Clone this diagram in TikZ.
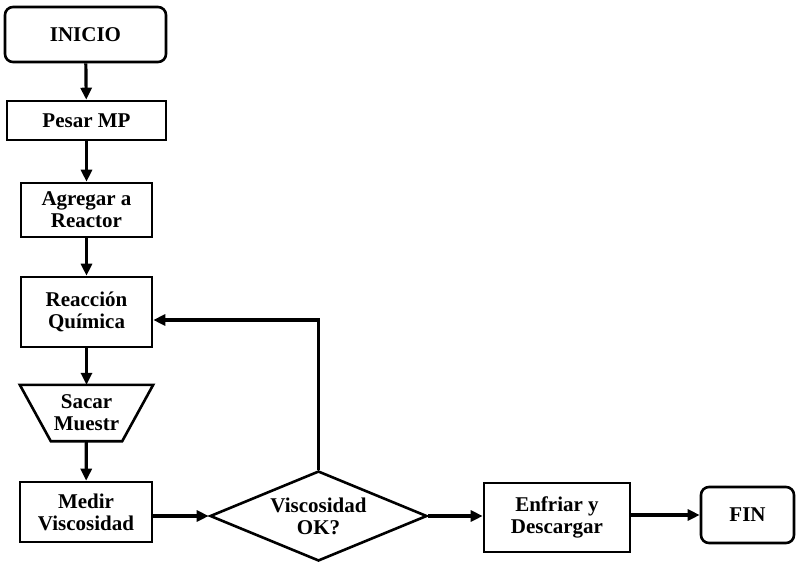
\documentclass[tikz,border=0pt]{standalone}
\usepackage{fontspec}
\setmainfont{Liberation Serif}
\usetikzlibrary{shapes.geometric,arrows.meta}
\begin{document}
\begin{tikzpicture}[x=1pt,y=-1pt,
  every node/.style={font=\bfseries\fontsize{21}{22}\selectfont, align=center, inner sep=0pt},
  box/.style={draw, line width=2.6pt, rectangle},
  rbox/.style={draw, line width=2.6pt, rectangle, rounded corners=8pt},
  dia/.style={draw, line width=2.6pt, diamond, aspect=2.4},
  conn/.style={line width=3.2pt, -{Triangle[length=12pt,width=11pt]}}]
\useasboundingbox (0,0) rectangle (796,563);
\node[rbox, minimum width=161pt, minimum height=55pt] (inicio) at (85.5,34.5) {INICIO};
\node[box, minimum width=159pt, minimum height=39pt] (pesar) at (86.5,120.5) {Pesar MP};
\node[box, minimum width=131pt, minimum height=54pt] (agregar) at (86.5,210) {Agregar a\\Reactor};
\node[box, minimum width=131pt, minimum height=70pt] (reaccion) at (86.5,312) {Reacción\\Química};
\node[minimum width=133pt, minimum height=56pt] (sacar) at (86.5,413) {Sacar\\Muestr};
\draw[line width=2.6pt, line join=miter] (sacar.north west) -- (sacar.north east)
  -- ([xshift=-31pt]sacar.south east) -- ([xshift=31pt]sacar.south west) -- cycle;
\node[box, minimum width=132pt, minimum height=60pt] (medir) at (86,512) {Medir\\Viscosidad};
\node[dia, minimum width=217pt, minimum height=90pt] (visc) at (318.5,516) {Viscosidad\\OK?};
\node[box, minimum width=146pt, minimum height=69pt] (enfriar) at (557,517.5) {Enfriar y\\Descargar};
\node[rbox, minimum width=93pt, minimum height=56pt] (fin) at (747.5,515) {FIN};
\draw[conn] (inicio) -- (pesar);
\draw[conn] (pesar) -- (agregar);
\draw[conn] (agregar) -- (reaccion);
\draw[conn] (reaccion) -- (sacar);
\draw[conn] (sacar) -- (medir);
\draw[conn] (medir.east |- visc.west) -- (visc.west);
\draw[conn] (visc.east) -- (enfriar.west |- visc.east);
\draw[conn] (enfriar.east |- fin.west) -- (fin.west);
\coordinate (corner) at (visc.north |- 0,320);
\draw[conn, line join=miter] (visc.north) -- (corner) -- (reaccion.east |- corner);
\end{tikzpicture}
\end{document}
